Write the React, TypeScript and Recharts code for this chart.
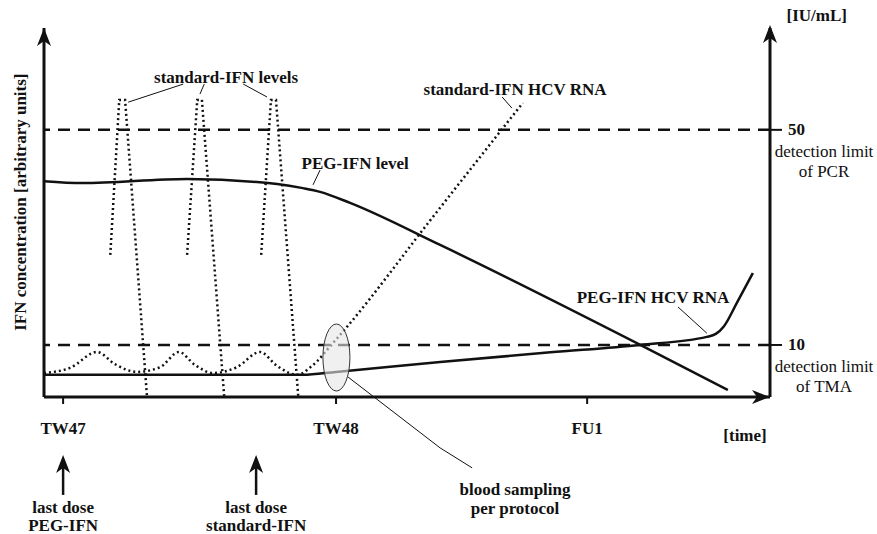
import React from 'react';
import { LineChart, Line, XAxis, YAxis, ReferenceLine, ReferenceDot } from 'recharts';

// x: days after the TW47 visit (schematic), y: arbitrary concentration units 0-100
const timeTicks = [0, 7, 13.44];
const timeLabels = ['TW47', 'TW48', 'FU1'];

// right axis: HCV RNA detection limits [IU/mL]
const limitTicks = [14.1, 72.4];
const limitValues = ['10', '50'];
const limitAssays = ['of TMA', 'of PCR'];

const pegLevel = [
  { x: -0.49, y: 58.5 },
  { x: 0.49, y: 58.0 },
  { x: 3.18, y: 59.1 },
  { x: 5.49, y: 57.7 },
  { x: 6.15, y: 56.6 },
  { x: 6.59, y: 55.6 },
  { x: 7.36, y: 52.6 },
  { x: 9.67, y: 41.2 },
  { x: 14.79, y: 14.2 },
  { x: 17.05, y: 1.9 },
];

const pegRna = [
  { x: -0.49, y: 6.0 },
  { x: 6.15, y: 6.0 },
  { x: 7.0, y: 6.8 },
  { x: 9.67, y: 9.5 },
  { x: 12.5, y: 12.1 },
  { x: 14.79, y: 14.1 },
  { x: 16.51, y: 16.3 },
  { x: 16.74, y: 17.1 },
  { x: 16.95, y: 19.2 },
  { x: 17.28, y: 25.5 },
  { x: 17.69, y: 33.6 },
];

const stdRna = [
  { x: -0.49, y: 6.5 },
  { x: 0.18, y: 7.9 },
  { x: 0.87, y: 12.2 },
  { x: 1.33, y: 8.9 },
  { x: 1.9, y: 6.8 },
  { x: 2.49, y: 8.1 },
  { x: 2.97, y: 12.2 },
  { x: 3.38, y: 8.7 },
  { x: 3.85, y: 6.5 },
  { x: 4.46, y: 8.1 },
  { x: 5.05, y: 12.2 },
  { x: 5.49, y: 8.4 },
  { x: 6.0, y: 6.0 },
  { x: 6.38, y: 8.4 },
  { x: 6.92, y: 14.6 },
  { x: 7.28, y: 19.0 },
  { x: 9.41, y: 47.8 },
  { x: 11.79, y: 79.7 },
];

const stdSpike1 = [
  { x: 1.21, y: 38.5 },
  { x: 1.44, y: 80.5 },
  { x: 1.59, y: 80.5 },
  { x: 2.15, y: 0.3 },
];
const stdSpike2 = [
  { x: 3.18, y: 38.5 },
  { x: 3.44, y: 80.5 },
  { x: 3.56, y: 80.5 },
  { x: 4.13, y: 0.3 },
];
const stdSpike3 = [
  { x: 5.08, y: 38.5 },
  { x: 5.33, y: 80.5 },
  { x: 5.46, y: 80.5 },
  { x: 6.03, y: 0.3 },
];

const notes = [
  { x: 4.18, y: 86.7, text: 'standard-IFN levels' },
  { x: 7.49, y: 63.4, text: 'PEG-IFN level' },
  { x: 11.59, y: 83.2, text: 'standard-IFN HCV RNA' },
  { x: 15.13, y: 27.1, text: 'PEG-IFN HCV RNA' },
  { x: 11.59, y: -25.2, text: 'blood sampling' },
  { x: 11.59, y: -30.1, text: 'per protocol' },
  { x: 0, y: -30.0, text: 'last dose' },
  { x: 0, y: -34.7, text: 'PEG-IFN' },
  { x: 4.95, y: -30.0, text: 'last dose' },
  { x: 4.95, y: -34.7, text: 'standard-IFN' },
  { x: 19.33, y: 103.5, text: '[IU/mL]' },
  { x: 17.49, y: -10.3, text: '[time]' },
];

const pointers = [
  [{ x: 3.08, y: 84.8 }, { x: 1.67, y: 79.9 }],
  [{ x: 3.62, y: 84.8 }, { x: 3.51, y: 82.1 }],
  [{ x: 4.62, y: 84.8 }, { x: 5.23, y: 81.3 }],
  [{ x: 6.59, y: 61.5 }, { x: 6.41, y: 57.5 }],
  [{ x: 11.26, y: 81.3 }, { x: 11.51, y: 78.3 }],
  [{ x: 15.77, y: 24.4 }, { x: 16.51, y: 17.3 }],
  [{ x: 7.31, y: 5.4 }, { x: 9.67, y: -13.8 }],
  [{ x: 9.67, y: -13.8 }, { x: 10.49, y: -19.2 }],
];

const doseArrows = [
  { x: 0, y: -15.7 },
  { x: 4.95, y: -15.7 },
];

const samplingPoint = { x: 7.01, y: 10.7 };

const xDomain = [-0.49, 18.13];
const yDomain = [0, 100];

const FONT = "'Liberation Serif', 'DejaVu Serif', serif";
const INK = '#111';
const FS = 17;
const Y = 'rna';

const TimeTick = ({ x, y, payload }: any) => {
  const i = timeTicks.indexOf(payload.value);
  return (
    <text x={x} y={y} textAnchor="middle" dominantBaseline="central" fontFamily={FONT} fontWeight="bold" fontSize={FS} fill={INK}>
      {timeLabels[i]}
    </text>
  );
};

const LimitTick = ({ x, y, payload }: any) => {
  const i = limitTicks.indexOf(payload.value);
  return (
    <g fontFamily={FONT} fill={INK}>
      <text x={x} y={y} dominantBaseline="central" fontWeight="bold" fontSize={FS}>{limitValues[i]}</text>
      <text x={x + 36} y={y + 22} textAnchor="middle" dominantBaseline="central" fontSize={FS}>detection limit</text>
      <text x={x + 36} y={y + 42} textAnchor="middle" dominantBaseline="central" fontSize={FS}>{limitAssays[i]}</text>
    </g>
  );
};

const upArrow = (cx: number, cy: number, len: number) => (
  <g>
    {len > 0 && <line x1={cx} y1={cy + 10} x2={cx} y2={cy + len} stroke={INK} strokeWidth={2.5} />}
    <path d={`M${cx},${cy} L${cx + 7},${cy + 18} L${cx},${cy + 13} L${cx - 7},${cy + 18} Z`} fill={INK} />
  </g>
);

export default function App() {
  return (
    <div style={{ position: 'absolute', left: 0, top: 0, width: 877, height: 534, background: '#fff' }}>
      <LineChart width={877} height={534} margin={{ top: 28, right: 106, bottom: 136, left: 43 }}>
        <XAxis
          type="number"
          dataKey="x"
          domain={xDomain}
          ticks={timeTicks}
          allowDataOverflow
          height={1}
          axisLine={{ stroke: INK, strokeWidth: 3 }}
          tickLine={{ stroke: INK, strokeWidth: 2 }}
          tickSize={7}
          tickMargin={24}
          tick={<TimeTick />}
        />
        <YAxis
          yAxisId="ifn"
          type="number"
          domain={yDomain}
          width={1}
          axisLine={{ stroke: INK, strokeWidth: 3 }}
          tickLine={false}
          tick={false}
        />
        <YAxis
          yAxisId={Y}
          orientation="right"
          type="number"
          domain={yDomain}
          ticks={limitTicks}
          interval={0}
          width={1}
          axisLine={{ stroke: INK, strokeWidth: 3 }}
          tickLine={{ stroke: INK, strokeWidth: 2 }}
          tickSize={12}
          tickMargin={6}
          tick={<LimitTick />}
        />

        {limitTicks.map((v) => (
          <ReferenceLine key={v} yAxisId={Y} y={v} stroke={INK} strokeWidth={2.5} strokeDasharray="12 8" />
        ))}

        <Line yAxisId={Y} data={pegLevel} dataKey="y" type="monotone" stroke={INK} strokeWidth={2.5} dot={false} isAnimationActive={false} />
        <Line yAxisId={Y} data={pegRna} dataKey="y" type="monotone" stroke={INK} strokeWidth={2.5} dot={false} isAnimationActive={false} />
        <Line yAxisId={Y} data={stdRna} dataKey="y" type="monotone" stroke={INK} strokeWidth={2.5} strokeDasharray="2 3" dot={false} isAnimationActive={false} />
        {[stdSpike1, stdSpike2, stdSpike3].map((s, i) => (
          <Line key={i} yAxisId={Y} data={s} dataKey="y" type="linear" stroke={INK} strokeWidth={2.5} strokeDasharray="2 3" dot={false} isAnimationActive={false} />
        ))}

        <ReferenceDot
          yAxisId={Y}
          x={samplingPoint.x}
          y={samplingPoint.y}
          ifOverflow="visible"
          shape={(p: any) => <ellipse cx={p.cx} cy={p.cy} rx={13.5} ry={33.5} fill="#e6e6e6" fillOpacity={0.6} stroke="#333" strokeWidth={1} />}
        />

        {pointers.map((seg, i) => (
          <ReferenceLine key={'p' + i} yAxisId={Y} segment={seg} ifOverflow="visible" stroke={INK} strokeWidth={1} />
        ))}

        {/* axis arrow heads */}
        <ReferenceDot yAxisId={Y} x={xDomain[0]} y={yDomain[1]} ifOverflow="visible" shape={(p: any) => upArrow(p.cx, p.cy, 0)} />
        <ReferenceDot yAxisId={Y} x={xDomain[1]} y={yDomain[1]} ifOverflow="visible" shape={(p: any) => upArrow(p.cx, p.cy - 3, 0)} />
        <ReferenceDot
          yAxisId={Y}
          x={xDomain[1]}
          y={yDomain[0]}
          ifOverflow="visible"
          shape={(p: any) => (
            <path d={`M${p.cx},${p.cy} L${p.cx - 18},${p.cy - 7} L${p.cx - 13},${p.cy} L${p.cx - 18},${p.cy + 7} Z`} fill={INK} />
          )}
        />

        {doseArrows.map((a, i) => (
          <ReferenceDot key={'d' + i} yAxisId={Y} x={a.x} y={a.y} ifOverflow="visible" shape={(p: any) => upArrow(p.cx, p.cy, 40)} />
        ))}

        {notes.map((n, i) => (
          <ReferenceDot
            key={'n' + i}
            yAxisId={Y}
            x={n.x}
            y={n.y}
            ifOverflow="visible"
            shape={(p: any) => (
              <text x={p.cx} y={p.cy} textAnchor="middle" dominantBaseline="central" fontFamily={FONT} fontWeight="bold" fontSize={FS} fill={INK}>
                {n.text}
              </text>
            )}
          />
        ))}

        <ReferenceDot
          yAxisId={Y}
          x={-1.1}
          y={52.8}
          ifOverflow="visible"
          shape={(p: any) => (
            <text
              x={p.cx}
              y={p.cy}
              transform={`rotate(-90 ${p.cx} ${p.cy})`}
              textAnchor="middle"
              dominantBaseline="central"
              fontFamily={FONT}
              fontWeight="bold"
              fontSize={FS}
              fill={INK}
            >
              IFN concentration [arbitrary units]
            </text>
          )}
        />
      </LineChart>
    </div>
  );
}
